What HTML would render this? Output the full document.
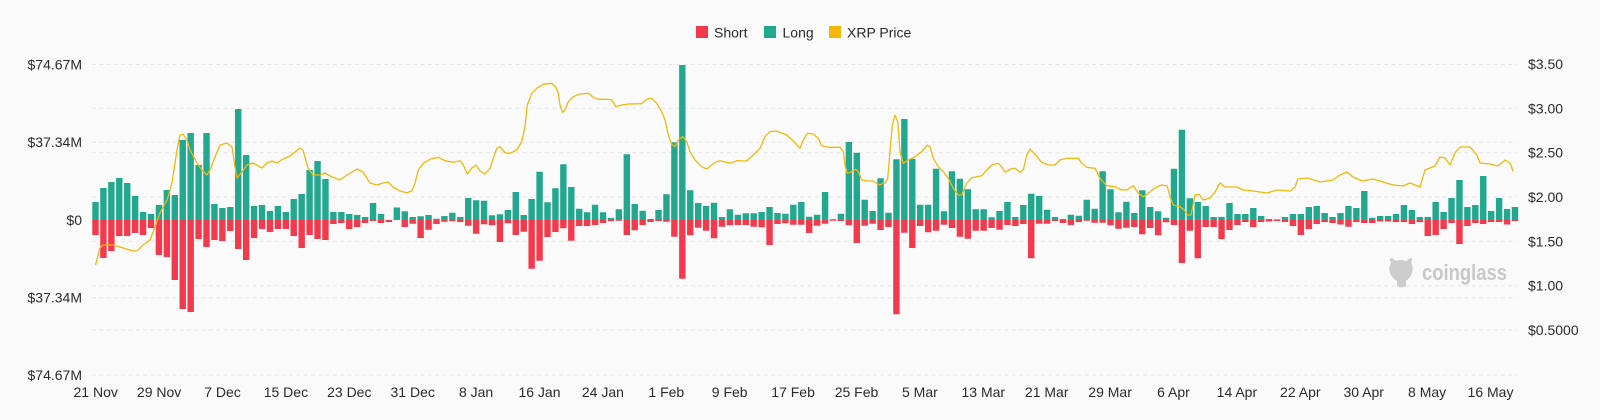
<!DOCTYPE html>
<html><head><meta charset="utf-8"><style>
html,body{margin:0;padding:0;background:#fafafa;}
svg{display:block;}
text{font-family:"Liberation Sans",sans-serif;}
</style></head><body>
<svg width="1600" height="420" viewBox="0 0 1600 420" xmlns="http://www.w3.org/2000/svg">
<rect width="1600" height="420" fill="#fafafa"/>
<!-- legend -->
<rect x="696" y="26" width="12" height="12" fill="#f33a4d"/>
<text x="714" y="37.5" font-size="14" fill="#2b2b2b">Short</text>
<rect x="764" y="26" width="12" height="12" fill="#21a88e"/>
<text x="782.5" y="37.5" font-size="14" fill="#2b2b2b">Long</text>
<rect x="829" y="26" width="12" height="12" fill="#f0b90b"/>
<text x="847" y="37.5" font-size="14" fill="#2b2b2b">XRP Price</text>
<!-- grid -->
<g stroke="#e6e6e6" stroke-width="1" stroke-dasharray="4 3.3">
<line x1="92" x2="1517" y1="64.5" y2="64.5"/>
<line x1="92" x2="1517" y1="108.3" y2="108.3"/>
<line x1="92" x2="1517" y1="142.3" y2="142.3"/>
<line x1="92" x2="1517" y1="152.7" y2="152.7"/>
<line x1="92" x2="1517" y1="197" y2="197"/>
<line x1="92" x2="1517" y1="220" y2="220"/>
<line x1="92" x2="1517" y1="241.3" y2="241.3"/>
<line x1="92" x2="1517" y1="285.7" y2="285.7"/>
<line x1="92" x2="1517" y1="297.7" y2="297.7"/>
<line x1="92" x2="1517" y1="330" y2="330"/>
<line x1="92" x2="1517" y1="375" y2="375"/>
</g>
<!-- left axis -->
<g font-size="14" fill="#2b2b2b" text-anchor="end">
<text x="82" y="69.5">$74.67M</text>
<text x="82" y="147">$37.34M</text>
<text x="82" y="225">$0</text>
<text x="82" y="302.5">$37.34M</text>
<text x="82" y="380">$74.67M</text>
</g>
<!-- right axis -->
<g font-size="14" fill="#2b2b2b">
<text x="1528" y="69">$3.50</text>
<text x="1528" y="113.3">$3.00</text>
<text x="1528" y="157.7">$2.50</text>
<text x="1528" y="202">$2.00</text>
<text x="1528" y="246.3">$1.50</text>
<text x="1528" y="290.7">$1.00</text>
<text x="1528" y="335">$0.5000</text>
</g>
<!-- x axis -->
<g font-size="14" fill="#2b2b2b" text-anchor="middle">
<text x="95.7" y="397">21 Nov</text>
<text x="159.1" y="397">29 Nov</text>
<text x="222.5" y="397">7 Dec</text>
<text x="285.9" y="397">15 Dec</text>
<text x="349.3" y="397">23 Dec</text>
<text x="412.7" y="397">31 Dec</text>
<text x="476.1" y="397">8 Jan</text>
<text x="539.5" y="397">16 Jan</text>
<text x="602.9" y="397">24 Jan</text>
<text x="666.3" y="397">1 Feb</text>
<text x="729.7" y="397">9 Feb</text>
<text x="793.1" y="397">17 Feb</text>
<text x="856.5" y="397">25 Feb</text>
<text x="919.9" y="397">5 Mar</text>
<text x="983.3" y="397">13 Mar</text>
<text x="1046.7" y="397">21 Mar</text>
<text x="1110.1" y="397">29 Mar</text>
<text x="1173.5" y="397">6 Apr</text>
<text x="1236.9" y="397">14 Apr</text>
<text x="1300.3" y="397">22 Apr</text>
<text x="1363.7" y="397">30 Apr</text>
<text x="1427.1" y="397">8 May</text>
<text x="1490.5" y="397">16 May</text>
</g>
<!-- watermark -->
<path d="M1391,263 q-3,-5 1,-5 l4,3 q5,-2 10,0 l4,-3 q4,0 1,5 q3,4 1,10 q-2,5 -6,8 l0,5 q-4,3 -9,0 l0,-5 q-5,-3 -7,-8 q-2,-6 1,-10 z" fill="#cdcdcd"/>
<text x="1422" y="280" font-size="22" font-weight="bold" fill="#c8c8c8" textLength="85" lengthAdjust="spacingAndGlyphs">coinglass</text>
<!-- long bars -->
<path fill="#21a88e" d="M92.3,220
v-18h6.4v18zm7.93,0 v-32h6.4v32zm7.93,0 v-38h6.4v38zm7.93,0 v-42h6.4v42zm7.93,0 v-37h6.4v37zm7.93,0
v-24h6.4v24zm7.93,0 v-8h6.4v8zm7.93,0 v-6h6.4v6zm7.93,0 v-15h6.4v15zm7.93,0 v-30h6.4v30zm7.93,0
v-25h6.4v25zm7.93,0 v-80h6.4v80zm7.93,0 v-87h6.4v87zm7.93,0 v-55h6.4v55zm7.93,0 v-87h6.4v87zm7.93,0
v-16h6.4v16zm7.93,0 v-12h6.4v12zm7.93,0 v-13h6.4v13zm7.93,0 v-111h6.4v111zm7.93,0 v-65h6.4v65zm7.93,0
v-14h6.4v14zm7.93,0 v-15h6.4v15zm7.93,0 v-9h6.4v9zm7.93,0 v-14h6.4v14zm7.93,0 v-8h6.4v8zm7.93,0
v-21h6.4v21zm7.93,0 v-26h6.4v26zm7.93,0 v-50h6.4v50zm7.93,0 v-59h6.4v59zm7.93,0 v-41h6.4v41zm7.93,0
v-8h6.4v8zm7.93,0 v-8h6.4v8zm7.93,0 v-6h6.4v6zm7.93,0 v-5h6.4v5zm7.93,0 v-3h6.4v3zm7.93,0
v-17h6.4v17zm7.93,0 v-6h6.4v6zm7.93,0 v0h6.4v0zm7.93,0 v-12.5h6.4v12.5zm7.93,0 v-8.7h6.4v8.7zm7.93,0
v-3h6.4v3zm7.93,0 v-3.7h6.4v3.7zm7.93,0 v-5h6.4v5zm7.93,0 v-1.3h6.4v1.3zm7.93,0 v-4h6.4v4zm7.93,0
v-7.3h6.4v7.3zm7.93,0 v-3h6.4v3zm7.93,0 v-22h6.4v22zm7.93,0 v-19.7h6.4v19.7zm7.93,0 v-19.3h6.4v19.3zm7.93,0
v-4.7h6.4v4.7zm7.93,0 v-5.7h6.4v5.7zm7.93,0 v-10h6.4v10zm7.93,0 v-28h6.4v28zm7.93,0 v-5h6.4v5zm7.93,0
v-21h6.4v21zm7.93,0 v-48.3h6.4v48.3zm7.93,0 v-17.7h6.4v17.7zm7.93,0 v-31.7h6.4v31.7zm7.93,0 v-55.7h6.4v55.7zm7.93,0
v-33h6.4v33zm7.93,0 v-11.3h6.4v11.3zm7.93,0 v-7.7h6.4v7.7zm7.93,0 v-15.3h6.4v15.3zm7.93,0 v-7.7h6.4v7.7zm7.93,0
v-2h6.4v2zm7.93,0 v-10.7h6.4v10.7zm7.93,0 v-65.7h6.4v65.7zm7.93,0 v-16h6.4v16zm7.93,0 v-9.3h6.4v9.3zm7.93,0
v-1h6.4v1zm7.93,0 v-10h6.4v10zm7.93,0 v-25.7h6.4v25.7zm7.93,0 v-77.7h6.4v77.7zm7.93,0 v-155h6.4v155zm7.93,0
v-29.7h6.4v29.7zm7.93,0 v-17h6.4v17zm7.93,0 v-14h6.4v14zm7.93,0 v-17.3h6.4v17.3zm7.93,0 v-3h6.4v3zm7.93,0
v-10.7h6.4v10.7zm7.93,0 v-5.3h6.4v5.3zm7.93,0 v-6.7h6.4v6.7zm7.93,0 v-6.7h6.4v6.7zm7.93,0 v-8h6.4v8zm7.93,0
v-13h6.4v13zm7.93,0 v-7h6.4v7zm7.93,0 v-6.3h6.4v6.3zm7.93,0 v-15.3h6.4v15.3zm7.93,0 v-18h6.4v18zm7.93,0
v-3.3h6.4v3.3zm7.93,0 v-5.3h6.4v5.3zm7.93,0 v-28h6.4v28zm7.93,0 v-0.8h6.4v0.8zm7.93,0 v-6.3h6.4v6.3zm7.93,0
v-78h6.4v78zm7.93,0 v-67.3h6.4v67.3zm7.93,0 v-20.3h6.4v20.3zm7.93,0 v-9h6.4v9zm7.93,0 v-41.7h6.4v41.7zm7.93,0
v-7.3h6.4v7.3zm7.93,0 v-60.7h6.4v60.7zm7.93,0 v-101h6.4v101zm7.93,0 v-61.3h6.4v61.3zm7.93,0 v-15.3h6.4v15.3zm7.93,0
v-15.3h6.4v15.3zm7.93,0 v-51.3h6.4v51.3zm7.93,0 v-8.7h6.4v8.7zm7.93,0 v-48.7h6.4v48.7zm7.93,0 v-41.3h6.4v41.3zm7.93,0
v-30.7h6.4v30.7zm7.93,0 v-10.7h6.4v10.7zm7.93,0 v-10.7h6.4v10.7zm7.93,0 v-2.7h6.4v2.7zm7.93,0 v-9h6.4v9zm7.93,0
v-18h6.4v18zm7.93,0 v-3h6.4v3zm7.93,0 v-15h6.4v15zm7.93,0 v-26.3h6.4v26.3zm7.93,0 v-24h6.4v24zm7.93,0
v-10.3h6.4v10.3zm7.93,0 v-3h6.4v3zm7.93,0 v-1h6.4v1zm7.93,0 v-5.3h6.4v5.3zm7.93,0 v-4.3h6.4v4.3zm7.93,0
v-20.3h6.4v20.3zm7.93,0 v-11.3h6.4v11.3zm7.93,0 v-48.7h6.4v48.7zm7.93,0 v-30.7h6.4v30.7zm7.93,0 v-7.7h6.4v7.7zm7.93,0
v-18.3h6.4v18.3zm7.93,0 v-7h6.4v7zm7.93,0 v-29.7h6.4v29.7zm7.93,0 v-13h6.4v13zm7.93,0 v-8.7h6.4v8.7zm7.93,0
v-2.3h6.4v2.3zm7.93,0 v-51.3h6.4v51.3zm7.93,0 v-90.3h6.4v90.3zm7.93,0 v-21.7h6.4v21.7zm7.93,0 v-18h6.4v18zm7.93,0
v-14h6.4v14zm7.93,0 v-3h6.4v3zm7.93,0 v-3h6.4v3zm7.93,0 v-17h6.4v17zm7.93,0 v-6h6.4v6zm7.93,0
v-6h6.4v6zm7.93,0 v-12h6.4v12zm7.93,0 v-4h6.4v4zm7.93,0 v-1h6.4v1zm7.93,0 v-0.6h6.4v0.6zm7.93,0
v-3h6.4v3zm7.93,0 v-6h6.4v6zm7.93,0 v-6h6.4v6zm7.93,0 v-13h6.4v13zm7.93,0 v-14h6.4v14zm7.93,0
v-7h6.4v7zm7.93,0 v-3h6.4v3zm7.93,0 v-7h6.4v7zm7.93,0 v-14h6.4v14zm7.93,0 v-12h6.4v12zm7.93,0
v-29h6.4v29zm7.93,0 v-2.3h6.4v2.3zm7.93,0 v-4h6.4v4zm7.93,0 v-4h6.4v4zm7.93,0 v-6h6.4v6zm7.93,0
v-15h6.4v15zm7.93,0 v-10h6.4v10zm7.93,0 v-3h6.4v3zm7.93,0 v-3h6.4v3zm7.93,0 v-18h6.4v18zm7.93,0
v-8h6.4v8zm7.93,0 v-22h6.4v22zm7.93,0 v-40h6.4v40zm7.93,0 v-13h6.4v13zm7.93,0 v-15h6.4v15zm7.93,0
v-44h6.4v44zm7.93,0 v-9h6.4v9zm7.93,0 v-22h6.4v22zm7.93,0 v-11h6.4v11zm7.93,0 v-13h6.4v13zm7.93,0"/>
<!-- short bars -->
<path fill="#f33a4d" d="M92.3,220
v15h6.4v-15zm7.93,0 v38h6.4v-38zm7.93,0 v31h6.4v-31zm7.93,0 v16h6.4v-16zm7.93,0 v16h6.4v-16zm7.93,0
v13h6.4v-13zm7.93,0 v15h6.4v-15zm7.93,0 v8h6.4v-8zm7.93,0 v35h6.4v-35zm7.93,0 v37h6.4v-37zm7.93,0
v60h6.4v-60zm7.93,0 v89h6.4v-89zm7.93,0 v92h6.4v-92zm7.93,0 v19h6.4v-19zm7.93,0 v27h6.4v-27zm7.93,0
v20h6.4v-20zm7.93,0 v21h6.4v-21zm7.93,0 v11h6.4v-11zm7.93,0 v29h6.4v-29zm7.93,0 v40h6.4v-40zm7.93,0
v18h6.4v-18zm7.93,0 v9h6.4v-9zm7.93,0 v12h6.4v-12zm7.93,0 v9h6.4v-9zm7.93,0 v9h6.4v-9zm7.93,0
v16h6.4v-16zm7.93,0 v28h6.4v-28zm7.93,0 v15h6.4v-15zm7.93,0 v19h6.4v-19zm7.93,0 v20h6.4v-20zm7.93,0
v4h6.4v-4zm7.93,0 v3h6.4v-3zm7.93,0 v9h6.4v-9zm7.93,0 v7h6.4v-7zm7.93,0 v3h6.4v-3zm7.93,0
v1h6.4v-1zm7.93,0 v3h6.4v-3zm7.93,0 v2h6.4v-2zm7.93,0 v0h6.4v0zm7.93,0 v7h6.4v-7zm7.93,0
v3.7h6.4v-3.7zm7.93,0 v18h6.4v-18zm7.93,0 v9.7h6.4v-9.7zm7.93,0 v4h6.4v-4zm7.93,0 v1.7h6.4v-1.7zm7.93,0
v1.3h6.4v-1.3zm7.93,0 v2h6.4v-2zm7.93,0 v5.7h6.4v-5.7zm7.93,0 v13.7h6.4v-13.7zm7.93,0 v4.3h6.4v-4.3zm7.93,0
v5.3h6.4v-5.3zm7.93,0 v22h6.4v-22zm7.93,0 v3.3h6.4v-3.3zm7.93,0 v15h6.4v-15zm7.93,0 v11.7h6.4v-11.7zm7.93,0
v48.7h6.4v-48.7zm7.93,0 v40.7h6.4v-40.7zm7.93,0 v17h6.4v-17zm7.93,0 v12h6.4v-12zm7.93,0 v8.3h6.4v-8.3zm7.93,0
v20.7h6.4v-20.7zm7.93,0 v6h6.4v-6zm7.93,0 v6h6.4v-6zm7.93,0 v5h6.4v-5zm7.93,0 v3h6.4v-3zm7.93,0
v1.3h6.4v-1.3zm7.93,0 v0.7h6.4v-0.7zm7.93,0 v15h6.4v-15zm7.93,0 v10.3h6.4v-10.3zm7.93,0 v5h6.4v-5zm7.93,0
v2h6.4v-2zm7.93,0 v1h6.4v-1zm7.93,0 v1.7h6.4v-1.7zm7.93,0 v16.7h6.4v-16.7zm7.93,0 v58.7h6.4v-58.7zm7.93,0
v15.3h6.4v-15.3zm7.93,0 v7.7h6.4v-7.7zm7.93,0 v10.7h6.4v-10.7zm7.93,0 v18.3h6.4v-18.3zm7.93,0 v6.7h6.4v-6.7zm7.93,0
v5.3h6.4v-5.3zm7.93,0 v5h6.4v-5zm7.93,0 v5h6.4v-5zm7.93,0 v6.7h6.4v-6.7zm7.93,0 v7.3h6.4v-7.3zm7.93,0
v25h6.4v-25zm7.93,0 v4h6.4v-4zm7.93,0 v3.3h6.4v-3.3zm7.93,0 v4.7h6.4v-4.7zm7.93,0 v4.7h6.4v-4.7zm7.93,0
v13h6.4v-13zm7.93,0 v5.7h6.4v-5.7zm7.93,0 v3.7h6.4v-3.7zm7.93,0 v0.8h6.4v-0.8zm7.93,0 v1h6.4v-1zm7.93,0
v5.3h6.4v-5.3zm7.93,0 v23h6.4v-23zm7.93,0 v5.7h6.4v-5.7zm7.93,0 v3.7h6.4v-3.7zm7.93,0 v10h6.4v-10zm7.93,0
v7h6.4v-7zm7.93,0 v94.3h6.4v-94.3zm7.93,0 v12.7h6.4v-12.7zm7.93,0 v28h6.4v-28zm7.93,0 v6h6.4v-6zm7.93,0
v12.3h6.4v-12.3zm7.93,0 v10.7h6.4v-10.7zm7.93,0 v4.7h6.4v-4.7zm7.93,0 v8h6.4v-8zm7.93,0 v16.7h6.4v-16.7zm7.93,0
v18.7h6.4v-18.7zm7.93,0 v10.7h6.4v-10.7zm7.93,0 v10.7h6.4v-10.7zm7.93,0 v8h6.4v-8zm7.93,0 v9.7h6.4v-9.7zm7.93,0
v5h6.4v-5zm7.93,0 v6h6.4v-6zm7.93,0 v4h6.4v-4zm7.93,0 v38.3h6.4v-38.3zm7.93,0 v3.7h6.4v-3.7zm7.93,0
v3.7h6.4v-3.7zm7.93,0 v1h6.4v-1zm7.93,0 v3h6.4v-3zm7.93,0 v5h6.4v-5zm7.93,0 v2h6.4v-2zm7.93,0
v0.7h6.4v-0.7zm7.93,0 v2.7h6.4v-2.7zm7.93,0 v2.7h6.4v-2.7zm7.93,0 v5.3h6.4v-5.3zm7.93,0 v8.7h6.4v-8.7zm7.93,0
v7.7h6.4v-7.7zm7.93,0 v7h6.4v-7zm7.93,0 v14.3h6.4v-14.3zm7.93,0 v8h6.4v-8zm7.93,0 v15.3h6.4v-15.3zm7.93,0
v2.3h6.4v-2.3zm7.93,0 v5h6.4v-5zm7.93,0 v43h6.4v-43zm7.93,0 v10.7h6.4v-10.7zm7.93,0 v38.3h6.4v-38.3zm7.93,0
v7h6.4v-7zm7.93,0 v7h6.4v-7zm7.93,0 v19h6.4v-19zm7.93,0 v10h6.4v-10zm7.93,0 v5h6.4v-5zm7.93,0
v2h6.4v-2zm7.93,0 v7h6.4v-7zm7.93,0 v2h6.4v-2zm7.93,0 v1.5h6.4v-1.5zm7.93,0 v1h6.4v-1zm7.93,0
v2h6.4v-2zm7.93,0 v6h6.4v-6zm7.93,0 v15h6.4v-15zm7.93,0 v9h6.4v-9zm7.93,0 v4h6.4v-4zm7.93,0
v2h6.4v-2zm7.93,0 v3h6.4v-3zm7.93,0 v4.5h6.4v-4.5zm7.93,0 v6.7h6.4v-6.7zm7.93,0 v2h6.4v-2zm7.93,0
v3h6.4v-3zm7.93,0 v3h6.4v-3zm7.93,0 v1.5h6.4v-1.5zm7.93,0 v1.5h6.4v-1.5zm7.93,0 v2h6.4v-2zm7.93,0
v2h6.4v-2zm7.93,0 v4h6.4v-4zm7.93,0 v2h6.4v-2zm7.93,0 v16h6.4v-16zm7.93,0 v15h6.4v-15zm7.93,0
v9h6.4v-9zm7.93,0 v3h6.4v-3zm7.93,0 v24h6.4v-24zm7.93,0 v6h6.4v-6zm7.93,0 v3h6.4v-3zm7.93,0
v4h6.4v-4zm7.93,0 v2h6.4v-2zm7.93,0 v2h6.4v-2zm7.93,0 v4.5h6.4v-4.5zm7.93,0 v1h6.4v-1zm7.93,0"/>
<!-- price line -->
<polyline fill="none" stroke="#f0b90b" stroke-width="1.3" stroke-linejoin="round" stroke-linecap="round" points="
95.7,264.3 100,248 103,245 113,245 120,247 133,251 137,251 143,245 150,240 155,227 160,213 167,200 172,183 177,150 180,135 183,134 187,140 190,150 197,163 202,170 207,175 210,170 215,157 220,145 227,143 232,147 235,167 237,178 242,172 247,165 253,163 262,168 267,163 272,161 277,163 283,159 290,156 300,148 303,150 308,168 313,175 320,175 325,173 332,177 340,180 347,175 357,169 363,172 370,183 377,185 383,183 388,182 393,187 400,191 406.7,192.7 411.7,191 415,183.3 418.3,170 423.3,163.3 430,159.3 438.3,157.3 445,160.7 453.3,162.3 460,160.7 463.3,165 467.3,174 471.7,168.3 476,165 480,171 485,174 490,168.3 493.3,158.3 496.7,148.3 500,146.7 505,152.7 510,153.3 516.7,150 521.7,141.7 525,126.7 527.3,105 531.7,93.3 536.7,88.3 543.3,84.3 551.7,83.3 555.7,87 558.3,93 560,105 562.3,112.3 565,110 568.3,101.7 573.3,96.7 580,94 588.3,93.3 593.3,97.3 598.3,99.3 608.3,99.3 612.3,100.3 615.7,106.7 621.7,105 628.3,104 641.7,103.7 646.7,99.3 651.7,98.3 656.7,103.3 661.7,111.7 665,120 668.3,135 671.7,144.3 675,146.7 678.3,140 682.7,136.7 686.7,141.7 690,151.7 695,160 701.7,166.7 706.7,169 711.7,165 716.7,161.7 720,160.7 730,163.3 736.7,160.7 746.7,161 753.3,155 760,148.3 765,136.7 770,131.7 776.7,131 786.7,135 793.3,141 800,148.3 803.3,140 807.3,133.3 813.3,134 818.3,138.3 821.7,145.7 828.3,147.3 840,147.3 843.3,151.7 845,165 847.3,173.3 851.7,171.7 856,169.3 858.3,171.7 861.7,180 866.7,181 873.3,181 879.3,185 883.3,183.3 885,183.3 887.7,178.3 890,151.7 892.3,125 895,115 897.7,121.7 900,151.7 903.3,163.3 908.3,160 915,156.7 921.7,151.7 927.3,145 930,146.7 933.3,158.3 938.3,166.7 943.3,171.7 948.3,178.3 953.3,188.3 958.3,195 961.7,195 966.7,183.3 971.7,177.7 981.7,175.7 986.7,170 991.7,165 998.3,163.3 1001.7,166.7 1005,172.3 1010,169.3 1015,168.3 1020,172.3 1023.3,170 1026.7,155 1030,149.3 1035,154.3 1041.7,162.3 1048.3,165 1055,165 1060,160 1066.7,158.3 1078.3,158.3 1081.7,163.3 1086.7,167.3 1095,168.3 1100,178.3 1106.7,185.7 1115,186.7 1121.7,190 1126.7,190 1133.3,185.7 1138.3,193.3 1143.3,196.7 1148.3,193.3 1155,187.7 1161.7,185 1167.3,186 1170,196.7 1173.3,205 1180,206.7 1184.3,210 1187.7,215 1191,215 1195,195 1199,194.3 1203.3,200 1210,198 1215,192 1220,183 1225,187 1237,187 1243,190 1253,191 1267,193 1277,190 1290,191 1295,187 1298,179 1307,178 1320,182 1333,180 1340,175 1347,172 1353,177 1362,181 1373,179 1383,182 1393,185 1403,186 1410,183 1420,187 1425,170 1430,168 1435,166 1440,157 1445,158 1450,165 1455,153 1460,147 1470,147 1477,155 1480,163 1490,164 1498,166 1505,160 1510,163 1513,171"/>
</svg>
</body></html>
